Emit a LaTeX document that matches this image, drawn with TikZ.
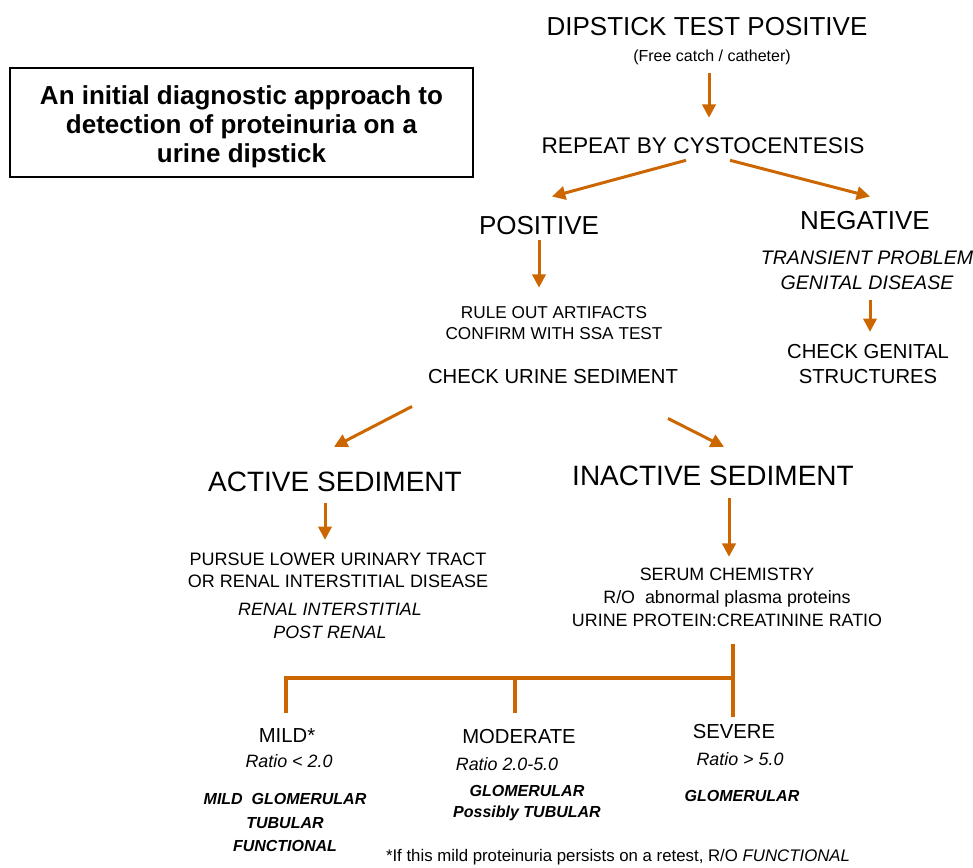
\documentclass[tikz,border=0pt]{standalone}
\usepackage{fontspec}
\setmainfont{Liberation Sans}
\usetikzlibrary{arrows.meta,calc}
\definecolor{floworange}{RGB}{204,102,0}
\tikzset{
  txt/.style={inner sep=0pt, align=center},
  bigtxt/.style={txt, font=\fontsize{19.5}{23}\selectfont},
  sedtxt/.style={txt, font=\fontsize{21}{25}\selectfont},
  reptxt/.style={txt, font=\fontsize{17}{20}\selectfont},
  midtxt/.style={txt, font=\fontsize{15.2}{18.75}\selectfont},
  itmid/.style={txt, font=\fontsize{14.7}{18.75}\selectfont\itshape},
  smalltxt/.style={txt, font=\fontsize{13.4}{17.25}\selectfont},
  itsmall/.style={txt, font=\fontsize{13.4}{17.25}\selectfont\itshape},
  tinytxt/.style={txt, font=\fontsize{12}{15}\selectfont},
  bitiny/.style={txt, font=\fontsize{12}{17.6}\selectfont\bfseries\itshape},
  titlebox/.style={draw, line width=1.5pt, inner sep=0pt,
    minimum width=347pt, minimum height=82pt},
  titletxt/.style={txt, font=\fontsize{19.5}{21.9}\selectfont\bfseries},
  arr/.style={draw=floworange, line width=2.25pt, -{Triangle[length=10pt,width=10pt]}},
  bar/.style={draw=floworange, line width=3pt},
}
\begin{document}
\begin{tikzpicture}[x=0.75pt, y=-0.75pt]
  \useasboundingbox (0,0) rectangle (973,867);

  % title box
  \node[titlebox] (title) at (241.5,122.5) {};
  \node[titletxt] (titletext) at (241.5,127) {An initial diagnostic approach to\\detection of proteinuria on a\\urine dipstick};

  % dipstick and cystocentesis
  \node[bigtxt] (dip) at (707,27) {DIPSTICK TEST POSITIVE};
  \node[tinytxt] (free) at (712,57) {(Free catch / catheter)};
  \node[reptxt] (repeat) at (703,146) {REPEAT BY CYSTOCENTESIS};
  \node[bigtxt] (pos) at (539,226) {POSITIVE};
  \node[bigtxt] (neg) at (865,221) {NEGATIVE};

  % negative branch
  \node[itmid] (trans) at (867,270.5) {TRANSIENT PROBLEM\\GENITAL DISEASE};
  \node[midtxt] (genital) at (868,364.5) {CHECK GENITAL\\STRUCTURES};

  % positive branch
  \node[txt, font=\fontsize{12.9}{15.75}\selectfont] (ruleout) at (554,323.5) {RULE OUT ARTIFACTS\\CONFIRM WITH SSA TEST};
  \node[midtxt] (curine) at (553,377) {CHECK URINE SEDIMENT};
  \node[sedtxt] (active) at (335,482) {ACTIVE SEDIMENT};
  \node[sedtxt] (inactive) at (713,476) {INACTIVE SEDIMENT};
  \node[txt, font=\fontsize{13.5}{16.5}\selectfont] (pursue) at (338,570) {PURSUE LOWER URINARY TRACT\\OR RENAL INTERSTITIAL DISEASE};
  \node[itsmall] (renal) at (330,620.5) {RENAL INTERSTITIAL\\POST RENAL};
  \node[smalltxt] (serum) at (727,597) {SERUM CHEMISTRY\\R/O\ \ abnormal plasma proteins\\URINE PROTEIN:CREATININE RATIO};

  % severity
  \node[midtxt] (mild) at (287,736) {MILD*};
  \node[midtxt] (moderate) at (519,737) {MODERATE};
  \node[midtxt] (severe) at (734,732) {SEVERE};
  \node[itsmall] (mildr) at (289,761) {Ratio < 2.0};
  \node[itsmall] (modr) at (507,764) {Ratio 2.0-5.0};
  \node[itsmall] (sevr) at (740,759) {Ratio > 5.0};
  \node[bitiny] (mildg) at (285,822.5) {MILD\ \ GLOMERULAR\\TUBULAR\\FUNCTIONAL};
  \node[txt, font=\fontsize{12}{15.75}\selectfont\bfseries\itshape] (modg) at (527,803.5) {GLOMERULAR\\Possibly TUBULAR};
  \node[bitiny] (sevg) at (742,796) {GLOMERULAR};
  \node[txt, font=\fontsize{12.6}{15}\selectfont] (foot) at (618,857) {*If this mild proteinuria persists on a retest, R/O \textit{FUNCTIONAL}};

  % arrows
  \draw[arr] ($(free.south)+(-3,8.5)$) -- ($(repeat.north)+(6,-20)$);
  \draw[arr] ($(repeat.south)+(-17,6)$) -- ($(pos.north)+(13,-20)$);
  \draw[arr] ($(repeat.south)+(27,6)$) -- ($(neg.north)+(5,-15)$);
  \draw[arr] ($(pos.south)+(0,5)$) -- ($(ruleout.north)+(-15,-19)$);
  \draw[arr] ($(trans.south)+(3,10)$) -- ($(genital.north)+(2,-12.7)$);
  \draw[arr] ($(curine.south)+(-141,22)$) -- ($(active.north)+(-1,-25)$);
  \draw[arr] ($(curine.south)+(115,34)$) -- ($(inactive.north)+(11,-19)$);
  \draw[arr] ($(active.south)+(-10,11)$) -- ($(pursue.north)+(-13,-12.5)$);
  \draw[arr] ($(inactive.south)+(16,12)$) -- ($(serum.north)+(2,-10.6)$);

  % bracket to the three grades
  \coordinate (hub) at (733,678);
  \draw[bar] ($(serum.south)+(6,17)$) -- ($(severe.north)+(-1,-8)$);
  \draw[bar] ($(mild.north)+(-1,-16)$) |- (hub);
  \draw[bar] ($(moderate.north)+(-4,-17)$) -- ++(0,-34);
\end{tikzpicture}
\end{document}
